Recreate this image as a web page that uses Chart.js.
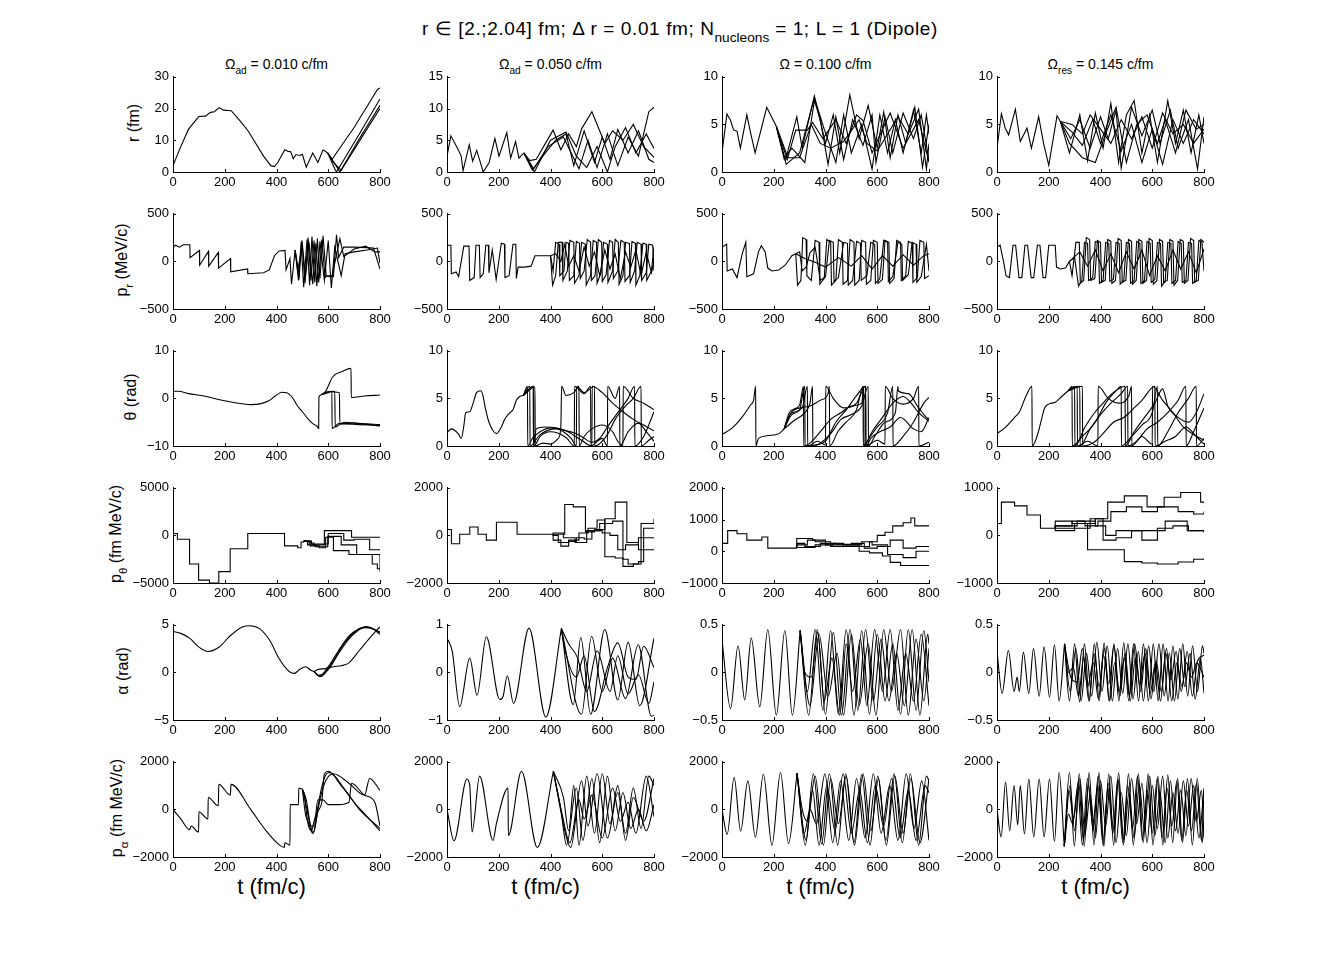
<!DOCTYPE html>
<html>
<head>
<meta charset="utf-8">
<script src="https://cdn.jsdelivr.net/npm/chart.js@4.4.1/dist/chart.umd.min.js"></script>
<style>
  html, body { margin: 0; padding: 0; background: #fff; }
  #page { position: relative; width: 1334px; height: 963px; font-family: 'Liberation Sans', Arial, sans-serif; color: #000; overflow: hidden; }
  .panel { position: absolute; }
  .lbl { position: absolute; white-space: nowrap; line-height: 1; }
  .ylab { transform: translate(-50%, -50%) rotate(-90deg); font-size: 16px; }
  .ctitle { transform: translateX(-50%); font-size: 14px; }
  .xlab { transform: translate(-50%, -50%); font-size: 22px; }
  #title { left: 680px; top: 19px; transform: translateX(-50%); font-size: 19px; letter-spacing: 0.6px; }
  sub { font-size: 0.72em; vertical-align: -0.5em; line-height: 0; letter-spacing: 0; }
</style>
</head>
<body>
<div id="page">
  <div class="lbl" id="title">r &isin; [2.;2.04] fm; &Delta; r = 0.01 fm; N<sub>nucleons</sub> = 1; L = 1 (Dipole)</div>
</div>
<script>
// ---- labels / ticks ----
const tTicks = [0, 200, 400, 600, 800];
const omegaTitles = [
  '&Omega;<sub>ad</sub> = 0.010 c/fm',
  '&Omega;<sub>ad</sub> = 0.050 c/fm',
  '&Omega; = 0.100 c/fm',
  '&Omega;<sub>res</sub> = 0.145 c/fm'
];
const rowLabels = [
  'r (fm)',
  'p<sub>r</sub> (MeV/c)',
  '&theta; (rad)',
  'p<sub>&theta;</sub> (fm MeV/c)',
  '&alpha; (rad)',
  'p<sub>&alpha;</sub> (fm MeV/c)'
];
const timeLabel = 't (fm/c)';

const yTicks = [
  [[0, 10, 20, 30], [0, 5, 10, 15], [0, 5, 10], [0, 5, 10]],
  [[-500, 0, 500], [-500, 0, 500], [-500, 0, 500], [-500, 0, 500]],
  [[-10, 0, 10], [0, 5, 10], [0, 5, 10], [0, 5, 10]],
  [[-5000, 0, 5000], [-2000, 0, 2000], [-1000, 0, 1000, 2000], [-1000, 0, 1000]],
  [[-5, 0, 5], [-1, 0, 1], [-0.5, 0, 0.5], [-0.5, 0, 0.5]],
  [[-2000, 0, 2000], [-2000, 0, 2000], [-2000, 0, 2000], [-2000, 0, 2000]]
];

// ---- r (fm) ----
const rA = [[0,2],[30,8],[60,13.5],[90,16.5],[100,17.5],[125,17.6],[145,18.8],[160,19],[178,20.3],[195,19.5],[225,19.3],[260,16],[290,13],[320,9],[350,5],[378,2],[392,1.7],[405,3],[432,7],[445,6.5],[455,6.4],[465,4.2],[475,5.5],[490,5.2],[500,5.6],[515,1.5],[540,6],[560,3],[580,7],[598,6]];
const rA_split = [
  [[615,4],[640,7],[700,14],[760,22],[790,26],[800,26.5]],
  [[625,1],[632,0],[720,12],[800,23]],
  [[630,2],[645,0],[720,10.5],[800,21]],
  [[620,3],[650,0.5],[730,11],[800,20]]
];
const rB = [[0,2.5],[15,5.7],[41,3.7],[55,2.5],[62,0.2],[86,4.3],[99,1.7],[115,3.4],[140,0],[163,1.5],[185,5.3],[201,2.5],[231,6.2],[246,2.2],[265,4.8],[278,2.2],[297,3]];
const rB_split = [
  [[320,1.8],[345,2],[410,6.6],[440,3.5],[470,6],[500,4],[520,6.8],[560,9.5],[610,4.5],[640,6.5],[680,5],[720,7.5],[760,4],[800,2.3]],
  [[330,0.3],[380,3],[420,5],[460,6],[490,1],[530,6.5],[570,1.5],[600,5.5],[630,2],[660,6.7],[700,3],[740,6.5],[780,2],[800,1.5]],
  [[335,0.5],[390,4],[450,5.5],[480,3],[510,0.5],[545,5],[580,0.7],[620,6],[660,1],[700,5.5],[740,2.5],[780,9.5],[800,10.2]],
  [[338,0],[400,5],[460,6.3],[500,2.5],[540,0.7],[580,4],[620,0],[650,4],[690,7],[730,3],[770,6],[800,3.7]]
];
const rC = [[0,2],[19,6.1],[32,5.5],[45,4.4],[58,4.3],[71,2.5],[96,6],[109,4.3],[128,2],[173,6.8],[195,5.6],[210,4.8]];
const rC_split = [
  [[245,1.2],[289,5.8],[310,2.5],[357,8],[400,3],[430,6],[455,2],[494,8.1],[530,3.5],[565,7],[600,2.5],[625,6.3],[650,1.5],[680,6],[710,3],[745,6.8],[775,0.5],[800,5]],
  [[248,0.8],[300,2],[357,7.8],[395,4.5],[440,1],[470,6],[500,2],[540,5],[580,0.3],[610,6],[640,2],[670,5.5],[700,2],[740,6.5],[770,2],[790,6],[800,4]],
  [[252,1.3],[285,4.4],[330,4.4],[350,5.2],[390,3.5],[440,5.5],[480,3],[520,6],[545,5.4],[580,2],[620,4.5],[650,6.2],[700,2.5],[760,5.5],[800,1]],
  [[255,1.5],[300,1.5],[345,5],[380,3],[420,2.5],[470,3.2],[530,5.5],[560,3],[600,2.2],[640,4],[680,5.8],[720,4],[760,6.6],[790,0.3],[800,3]],
  [[240,1.4],[270,2.5],[320,1],[357,7.5],[380,5.5],[410,0.8],[440,5.8],[470,1.3],[505,5.5],[545,2.8],[580,6],[595,1],[630,5.8],[660,2],[700,6.2],[740,3.5],[770,6],[800,1.2]]
];
const rD = [[0,2.5],[17,6.1],[32,4.6],[45,3.9],[71,6.6],[90,3.2],[116,4.6],[133,2.5],[161,5.8],[180,3],[200,0.7],[232,5.9],[245,5.3]];
const rD_split = [
  [[280,2],[320,6],[350,1.2],[380,6.2],[410,2.5],[440,7.2],[470,1],[500,6],[530,7.5],[560,2],[590,6],[620,1],[660,7.5],[690,3],[720,6.5],[750,2],[780,6],[800,3]],
  [[285,3.5],[320,5.5],[360,2.5],[400,5.8],[430,3.5],[460,6.5],[480,0.4],[520,6.8],[560,3.8],[600,6.5],[630,3],[670,6.5],[700,2.5],[740,5.5],[775,0.3],[800,5.8]],
  [[290,4.2],[330,2.8],[370,5.5],[400,3],[440,6],[480,2.2],[520,5],[560,1],[600,4.5],[640,0.8],[680,5.5],[720,3],[760,5.5],[800,4]],
  [[280,3],[330,1.5],[380,1],[420,4],[460,6.8],[500,1],[540,5],[580,6],[620,3],[650,5.5],[690,2],[730,6.5],[770,4.5],[800,5]],
  [[290,5],[330,4],[360,6],[400,4.5],[440,3],[480,5.5],[520,3.5],[560,5.8],[600,2.5],[640,6.2],[680,4],[720,5],[760,3],[800,4.5]]
];

// ---- p_r (MeV/c) ----
const prA = [[0,150],[10,170],[25,150],[40,175],[65,175],[66,40],[102,115],[103,-40],[137,105],[138,-50],[175,95],[176,-70],[222,30],[223,-110],[288,-80],[289,-130],[350,-120],[372,-90],[392,60],[410,110],[433,115],[437,-90],[452,30],[458,-240],[472,120]];
const prA_split = [
  [[485,-200],[495,200],[505,-270],[518,230],[528,-250],[537,260],[548,-220],[558,240],[568,-180],[580,270],[592,-150],[605,-160],[620,-160],[632,280],[640,40],[660,150],[700,150],[745,145],[775,140],[800,-80]],
  [[488,-150],[498,220],[510,-230],[522,250],[533,-200],[545,220],[556,-260],[568,210],[585,-200],[600,220],[612,-280],[625,150],[650,-150],[665,80],[700,100],[750,120],[790,140],[800,-20]],
  [[482,-100],[500,180],[512,-160],[526,200],[540,-240],[552,190],[563,-220],[575,230],[588,-170],[598,-150],[615,-150],[645,240],[660,50],[700,130],[745,160],[780,100],[800,100]]
];
const prB = [[0,170],[15,170],[17,-130],[35,-110],[45,-160],[65,160],[85,160],[88,-200],[105,-170],[112,170],[125,170],[128,-170],[140,-130],[150,170],[160,170],[162,-120],[175,120],[190,-190],[210,190],[222,180],[224,-170],[240,-150],[255,180],[266,180],[268,-180],[275,-60],[300,-60],[325,-50],[340,60],[390,60],[400,60]];
const prB_split = [
  [[408,-250],[420,-150],[430,200],[445,200],[448,-200],[465,-100],[475,220],[490,200],[493,-230],[510,-150],[520,200],[535,180],[538,-250],[555,-150],[565,220],[578,200],[580,-230],[595,-120],[605,200],[620,180],[622,-220],[640,-100],[650,230],[662,200],[665,-240],[680,-150],[690,200],[705,190],[708,-220],[725,-100],[735,200],[750,180],[752,-200],[770,-120],[780,180],[795,170],[800,-100]],
  [[410,-100],[420,200],[433,180],[436,-150],[452,-100],[460,200],[470,190],[473,-200],[490,-150],[500,210],[512,190],[515,-180],[530,-100],[542,230],[555,200],[558,-200],[572,-150],[585,230],[598,200],[600,-210],[615,-140],[628,220],[640,200],[643,-180],[660,-100],[672,220],[685,200],[688,-210],[705,-150],[715,210],[728,190],[730,-250],[745,-150],[757,190],[770,180],[772,-200],[790,-100],[800,150]],
  [[420,80],[440,0],[455,180],[470,-50],[490,60],[510,-100],[530,150],[550,-50],[570,100],[590,-150],[610,120],[630,-80],[650,80],[670,-180],[690,100],[710,-60],[730,120],[750,-150],[770,100],[790,-120],[800,0]]
];
const prC = [[0,150],[18,180],[20,-100],[40,-80],[58,-170],[78,80],[92,200],[96,-160],[122,-130],[141,100],[152,165],[167,100],[177,-70],[193,-100],[219,-90],[244,-40],[270,60],[285,80]];
const prC_split = [
  [[292,-250],[305,-200],[312,250],[325,230],[328,-150],[345,-200],[360,220],[375,200],[378,-240],[395,-180],[405,230],[420,200],[423,-250],[440,-200],[450,230],[465,200],[468,-240],[485,-200],[495,230],[510,200],[513,-250],[530,-200],[540,220],[555,200],[558,-240],[575,-200],[585,220],[600,200],[603,-230],[620,-190],[630,220],[645,200],[648,-230],[665,-180],[675,220],[690,200],[693,-200],[710,-150],[720,210],[735,190],[738,-220],[755,-170],[765,220],[780,200],[783,-180],[800,-150]],
  [[300,100],[310,-100],[325,-60],[340,90],[360,150],[380,-200],[400,-160],[415,220],[430,200],[433,-210],[450,-170],[470,200],[485,190],[488,-250],[505,-200],[520,210],[535,190],[538,-200],[560,-150],[575,200],[590,180],[593,-230],[610,-180],[625,220],[640,200],[643,-210],[660,-160],[680,200],[695,180],[698,-200],[720,-140],[735,200],[750,180],[753,-220],[770,-160],[790,180],[800,-100]],
  [[320,30],[360,-10],[400,-60],[450,40],[500,-50],[540,60],[580,-80],[620,60],[660,-50],[700,70],[740,-40],[780,60],[800,80]]
];
const prD = [[0,150],[12,170],[25,0],[35,-150],[48,-170],[62,170],[72,170],[85,-170],[96,-170],[108,170],[118,170],[132,-170],[142,-170],[156,170],[166,170],[178,-170],[188,-170],[200,170],[225,170],[230,-60],[245,-80],[265,-70],[280,0]];
const prD_split = [
  [[290,-150],[305,200],[318,200],[322,-230],[335,-200],[345,250],[358,230],[362,-200],[378,-180],[388,220],[400,200],[404,-220],[418,-200],[428,230],[440,210],[444,-230],[458,-200],[468,240],[480,220],[484,-220],[498,-200],[508,230],[520,210],[524,-240],[538,-200],[548,230],[560,210],[564,-230],[578,-200],[588,240],[600,220],[604,-240],[618,-200],[628,230],[640,210],[644,-220],[658,-200],[668,230],[680,210],[684,-250],[698,-200],[708,230],[720,210],[724,-230],[738,-200],[748,240],[760,220],[764,-220],[778,-200],[788,230],[800,200]],
  [[300,40],[315,-260],[328,-200],[338,200],[350,190],[354,-200],[370,-170],[380,210],[392,200],[396,-230],[410,-200],[420,200],[432,190],[436,-210],[450,-190],[460,200],[472,190],[476,-240],[490,-200],[500,200],[512,190],[516,-230],[530,-200],[540,210],[552,190],[556,-230],[570,-200],[580,210],[592,190],[596,-220],[610,-190],[620,200],[632,190],[636,-260],[650,-210],[660,200],[672,190],[676,-230],[690,-200],[700,210],[712,190],[716,-220],[730,-200],[740,200],[752,190],[756,-230],[770,-200],[780,220],[792,200],[800,-100]],
  [[320,100],[350,-50],[380,120],[410,-100],[440,80],[470,-120],[500,100],[530,-80],[560,120],[590,-150],[620,60],[650,-100],[680,120],[710,-80],[740,100],[770,-120],[800,130]]
];

// ---- theta (rad) ----
const thA = [[0,1.5],[20,1.5],[60,1],[120,0.5],[180,-0.3],[240,-0.9],[300,-1.3],[340,-1.1],[370,-0.5],[395,0.5],[420,1.3],[440,1.2],[460,0.3],[480,-1.5],[500,-2.8],[520,-4.2],[540,-5.3],[556,-5.8],[563,-6.3],[564,0.3],[575,0.8]];
const thA_split = [
  [[590,1.5],[617,4.5],[656,5.7],[688,6.3],[689,0.2],[740,0.5],[800,0.7]],
  [[600,1.2],[614,1.5],[615,-6.3],[640,-5.3],[720,-5.5],[800,-5.7]],
  [[590,1.3],[625,1.5],[627,-6],[660,-5],[730,-5.3],[800,-5.5]],
  [[600,1.4],[643,1.2],[645,-5.3],[700,-5.2],[800,-5.8]]
];
const thB = [[0,1.4],[17,1.8],[43,1.3],[55,0.8],[66,2.3],[72,3.5],[88,3.6],[101,4.5],[114,5.6],[130,5.8],[139,5.3],[148,4],[161,2.6],[178,1.6],[191,1.3],[210,2],[223,2.8],[243,3.5],[255,3.8],[268,4.8],[281,5.2],[295,5.3]];
const thB_split = [
  [[311,6.28],[312,0],[330,0.8],[360,1.5],[400,1.9],[450,1.7],[480,1.3],[520,0.6],[560,0],[561,6.28],[600,5.6],[640,4.5],[680,3.6],[720,2.8],[760,2.2],[800,1.6]],
  [[333,6.28],[334,0],[345,1.8],[380,2],[420,1.9],[460,1.6],[490,1.4],[520,1],[560,0.4],[590,0.8],[620,2],[660,3.5],[700,5],[725,6.28],[726,0],[760,1],[800,3.6]],
  [[340,6.2],[341,0],[370,0.3],[400,0.2],[430,0.8],[440,2],[443,6.28],[460,5.3],[490,5.6],[510,6.28],[511,0],[530,1],[560,1.8],[600,2.2],[640,1.5],[660,0.5],[680,0],[681,6.28],[720,5],[760,4.5],[800,3.8]],
  [[335,6.28],[336,0],[360,1],[400,1.5],[460,0.9],[492,0],[493,6.28],[530,5.5],[555,6.28],[556,0],[600,0.8],[620,0],[621,6.28],[650,5],[667,6.28],[668,0],[700,1.5],[740,2.4],[770,1.5],[800,0.5]],
  [[320,6.28],[321,0],[360,1.2],[420,1.8],[480,0.8],[500,0],[501,6.28],[530,5.6],[570,6.28],[571,0],[620,1.2],[650,2.8],[690,4.2],[720,5],[750,6.28],[751,0],[780,0.6],[800,1]]
];
const thC = [[0,1.2],[40,1.9],[77,3],[110,4.3],[122,4.8],[130,6.28],[131,0],[141,0.8],[180,1.1],[220,1.3],[240,1.8]];
const thC_split = [
  [[260,3.5],[280,3.9],[300,4.3],[315,6.28],[316,0],[340,0.3],[380,1.5],[420,2.8],[460,3.5],[500,4.2],[540,4.5],[548,6.28],[549,0],[580,1.5],[620,3],[660,4.5],[700,5.2],[740,4.2],[760,3.5],[800,2.6]],
  [[270,3.6],[300,4],[340,4.2],[380,4.8],[410,5.5],[415,6.28],[416,0],[450,1.6],[480,2.5],[520,3.8],[545,6.28],[546,0],[560,0.5],[600,2],[640,3.5],[660,6.28],[661,0],[700,1],[740,2.5],[780,4.5],[800,5.1]],
  [[270,3.3],[300,3.8],[320,6.28],[321,0],[360,0.1],[400,0.5],[440,2.5],[480,3.8],[520,5.3],[555,6.28],[556,0],[575,0.8],[610,1.5],[650,2],[690,3],[740,1.8],[770,1.5],[800,3]],
  [[280,2.7],[320,3.5],[340,4.5],[350,6.28],[351,0],[380,0.3],[420,1.3],[460,2.8],[500,3.3],[540,4.2],[565,6.28],[566,0],[590,1],[630,2.5],[670,3.5],[680,6.28],[681,5.8],[720,5.5],[760,4],[790,3],[800,2.8]],
  [[265,3.4],[310,4],[330,6.28],[331,0],[370,0.5],[400,0.1],[401,6.28],[430,5],[470,4],[520,4.5],[555,6.28],[556,0],[600,0.6],[630,0.2],[631,6.28],[660,5],[700,4.4],[740,5],[760,6.28],[761,0],[800,0.4]]
];
const thD = [[0,1.3],[30,1.9],[68,3],[87,3.6],[113,5.3],[135,6.28],[136,0],[148,0.5],[160,1.5],[172,2.8],[184,4],[200,4.4],[225,4.6],[250,5.2],[275,5.8]];
const thD_split = [
  [[290,6.28],[291,0],[330,1],[380,2.5],[420,4.5],[460,5.8],[480,6.28],[481,0],[520,1],[560,2.2],[600,3.5],[620,6.28],[621,0],[660,1.5],[700,3.5],[740,5],[770,6.28],[771,0],[800,0.8]],
  [[300,6.28],[301,0],[340,2],[380,3.6],[410,4.5],[440,5.4],[470,6],[495,6.28],[496,0],[530,1.5],[570,3],[610,4.5],[640,6],[660,4.2],[700,3],[740,2.5],[770,3.5],[800,5.5]],
  [[310,6.28],[311,0],[350,0.5],[390,0],[391,6.28],[430,5],[470,4.5],[510,5.3],[520,6.28],[521,0],[560,1],[600,0.2],[601,6.28],[640,4.8],[680,3.5],[720,2],[760,1.2],[800,0.6]],
  [[320,6.28],[321,0],[360,1.8],[400,3.3],[440,4.5],[480,5.5],[505,6.28],[506,0],[540,0.5],[580,1.8],[620,2.5],[660,3.5],[700,4.8],[730,6.28],[731,0],[760,1.5],[800,4]],
  [[330,6.28],[331,0],[370,0.3],[400,1],[450,2.5],[490,3],[530,4],[560,4.8],[610,6.28],[611,0],[650,0.5],[690,1],[730,2],[770,1],[800,0.2]]
];

// ---- p_theta (fm MeV/c), step values ----
const pthA = [[0,200],[17,-400],[64,-3000],[99,-4700],[141,-5000],[177,-3800],[221,-1400],[289,200],[431,-1100],[482,-1300],[495,-700],[505,-600]];
const pthA_split = [
  [[525,-800],[545,-1000],[585,500],[690,-200],[800,-200]],
  [[530,-1100],[565,-1300],[590,-200],[620,-1600],[680,-2000],[780,-2000],[800,-3800]],
  [[520,-1000],[550,-1200],[598,-100],[650,-1000],[710,-2000],[770,-3000],[790,-3500],[800,-3500]],
  [[535,-900],[575,-900],[600,200],[660,-500],[700,-400],[760,-1500],[800,-1500]]
];
const pthB = [[0,250],[17,-350],[49,50],[88,350],[120,50],[152,-200],[191,550],[271,50],[410,50]];
const pthB_split = [
  [[455,1300],[488,1200],[535,150],[570,250],[610,700],[650,1400],[695,-300],[740,-600],[800,-600]],
  [[410,-200],[440,-450],[470,-250],[500,-100],[530,-150],[560,200],[590,500],[640,600],[680,-1000],[700,-1200],[740,-1100],[760,300],[800,300]],
  [[410,0],[430,-300],[470,-200],[510,100],[545,300],[580,650],[610,-900],[650,-950],[680,-1300],[720,-1200],[750,500],[800,700]],
  [[410,100],[450,-100],[495,-300],[540,200],[600,100],[630,0],[660,-600],[690,-400],[740,-100],[800,-100]]
];
const pthC = [[0,250],[22,650],[58,550],[96,350],[154,450],[177,100],[289,100]];
const pthC_split = [
  [[289,400],[350,350],[400,200],[430,250],[470,200],[530,150],[570,300],[600,500],[630,600],[660,800],[700,900],[730,1050],[745,800],[800,800]],
  [[289,200],[330,350],[360,300],[420,200],[470,150],[530,0],[570,-50],[620,-150],[650,-350],[690,-450],[800,-450]],
  [[289,250],[320,150],[380,250],[440,220],[500,250],[550,100],[600,150],[650,350],[700,100],[750,150],[800,150]],
  [[289,120],[360,200],[420,150],[480,200],[540,300],[580,200],[640,-100],[700,-200],[750,0],[800,0]]
];
const pthD = [[0,250],[17,700],[68,620],[116,430],[168,150],[225,150]];
const pthD_split = [
  [[225,300],[290,250],[330,250],[380,350],[428,700],[492,830],[580,600],[646,800],[710,900],[787,700],[800,700]],
  [[225,200],[290,300],[340,200],[390,300],[440,500],[500,600],[560,500],[620,600],[700,500],[760,450],[800,500]],
  [[225,150],[300,250],[350,-300],[420,-300],[492,-550],[560,-580],[620,-600],[700,-560],[760,-500],[800,-480]],
  [[225,100],[300,150],[360,350],[410,-100],[460,-50],[520,100],[600,100],[650,300],[700,300],[735,100],[800,80]],
  [[225,200],[310,300],[380,200],[420,0],[460,100],[560,-100],[620,150],[680,200],[740,100],[800,60]]
];

// ---- alpha (rad) ----
const alA = [[0,4.3],[30,4.1],[64,3.6],[103,2.6],[135,2.2],[180,2.7],[219,3.8],[270,4.8],[296,4.9],[334,4.6],[373,3.4],[411,1.4],[450,0.07],[469,-0.1],[489,0.3],[512,0.6],[534,0.2],[545,0.1]];
const alA_split = [
  [[566,-0.4],[600,0.6],[640,2.3],[680,3.8],[720,4.6],[745,4.8],[770,4.6],[800,4]],
  [[560,-0.3],[600,0.3],[640,2],[690,3.8],[740,4.7],[770,4.6],[800,4.2]],
  [[560,0.3],[590,0.4],[620,0.6],[650,0.7],[680,1],[720,2.3],[760,3.6],[800,4.8]],
  [[570,-0.45],[610,0.8],[660,3],[710,4.4],[750,4.8],[800,4.2]]
];
const alB = [[0,0.72],[20,0.45],[49,-0.72],[88,0.3],[116,-0.48],[152,0.75],[204,-0.57],[217,-0.5],[233,-0.07],[257,-0.65],[317,0.93],[382,-0.94],[442,0.92]];
const alB_split = [
  [[488,-0.68],[517,0.73],[555,-0.88],[610,0.9],[660,-0.58],[700,0.63],[745,-0.7],[800,0.72]],
  [[520,-0.88],[559,0.76],[600,-0.4],[640,0.3],[690,-0.55],[739,0.58],[790,-0.92],[800,-0.9]],
  [[455,0.5],[500,-0.1],[530,0.35],[570,-0.82],[620,0.1],[660,0.62],[700,-0.1],[730,-0.15],[760,0.55],[800,0.1]],
  [[470,0.6],[505,0.3],[540,-0.4],[580,0.45],[630,-0.4],[660,0.35],[700,-0.45],[740,-0.05],[780,-0.65],[800,-0.2]]
];
const alC = [[0,0.34],[33,-0.38],[62,0.28],[88,-0.29],[113,0.36],[146,-0.36],[177,0.45],[210,-0.45],[243,0.44],[272,-0.45],[302,0.44]];
const alC_split = [
  [[330,-0.2],[360,0.45],[390,-0.4],[420,0.44],[450,-0.44],[480,0.45],[510,-0.45],[540,0.44],[570,-0.44],[600,0.4],[630,-0.3],[660,0.3],[690,-0.44],[720,0.45],[750,-0.4],[780,0.44],[800,-0.1]],
  [[335,-0.45],[368,0.45],[400,-0.44],[430,0.42],[462,-0.45],[495,0.45],[525,-0.4],[555,0.45],[585,-0.3],[615,0.35],[645,-0.3],[675,0.2],[705,-0.35],[735,0.45],[765,-0.45],[795,0.4],[800,0.3]],
  [[320,0],[345,-0.05],[370,0.42],[395,-0.3],[425,0.15],[455,-0.45],[480,0.3],[505,-0.2],[535,0.35],[560,-0.35],[590,0.45],[620,-0.2],[650,0.45],[680,-0.4],[710,0.2],[740,-0.3],[770,0.4],[800,-0.35]],
  [[340,-0.35],[375,0.4],[410,-0.25],[445,0.2],[470,-0.45],[500,0.4],[530,-0.35],[565,0.3],[595,-0.45],[625,0.45],[655,-0.2],[690,0.45],[720,-0.45],[750,0.35],[780,-0.3],[800,0.25]]
];
const alD = [[0,0.22],[20,-0.22],[44,0.23],[66,-0.2],[78,-0.05],[86,-0.2],[102,0.21],[123,-0.22],[141,0.25],[163,-0.25],[182,0.27],[203,-0.26],[222,0.29],[240,-0.3],[261,0.3]];
const alD_split = [
  [[280,-0.3],[300,0.3],[319,-0.31],[338,0.3],[357,-0.3],[376,0.3],[395,-0.3],[414,0.31],[433,-0.3],[452,0.3],[471,-0.3],[490,0.31],[509,-0.3],[528,0.3],[547,-0.3],[566,0.3],[585,-0.3],[604,0.3],[623,-0.3],[642,0.3],[661,-0.3],[680,0.28],[699,-0.28],[718,0.3],[737,-0.25],[756,0.28],[775,-0.2],[794,0.28],[800,0.2]],
  [[283,-0.2],[305,0.25],[325,-0.3],[346,0.2],[366,-0.25],[386,0.32],[406,-0.2],[426,0.28],[446,-0.3],[466,0.25],[486,-0.22],[506,0.3],[526,-0.28],[546,0.22],[566,-0.3],[586,0.28],[606,-0.2],[626,0.3],[646,-0.25],[666,0.2],[686,-0.3],[706,0.25],[726,-0.15],[746,0.2],[766,-0.28],[786,0.15],[800,-0.22]],
  [[275,0],[295,0.05],[315,-0.25],[335,0.15],[355,-0.3],[375,0.2],[395,-0.15],[415,0.25],[435,-0.3],[455,0.1],[475,-0.25],[495,0.2],[515,-0.3],[535,0.15],[555,-0.2],[575,0.25],[595,-0.28],[615,0.12],[635,-0.2],[655,0.25],[675,-0.3],[695,0.1],[715,-0.15],[735,0.22],[755,-0.25],[775,0.12],[800,0.18]],
  [[285,-0.05],[310,-0.1],[330,0.25],[350,-0.15],[372,0.1],[392,-0.28],[412,0.18],[432,-0.12],[452,0.28],[472,-0.2],[492,0.15],[512,-0.25],[532,0.3],[552,-0.12],[572,0.2],[592,-0.22],[612,0.1],[632,-0.3],[652,0.2],[672,-0.08],[692,0.22],[712,-0.2],[732,0.1],[752,-0.05],[772,0.1],[800,-0.05]]
];

// ---- p_alpha (fm MeV/c) ----
const palA = [[0,0],[30,-400],[64,-850],[70,-700],[99,-950],[100,-100],[135,-400],[136,500],[175,150],[177,1050],[222,600],[224,1050],[300,0],[360,-900],[412,-1500],[431,-1600],[432,-1400],[452,-1500],[453,200],[485,200],[486,900],[500,850]];
const palA_split = [
  [[512,-200],[525,-600],[540,-1000],[548,-800],[560,-100],[575,300],[585,1500],[600,1600],[650,1000],[700,300],[750,-300],[800,-900]],
  [[508,600],[520,-500],[535,-900],[545,-500],[558,0],[572,800],[588,1400],[605,1550],[660,900],[720,0],[800,-800]],
  [[515,400],[530,-600],[542,-1000],[555,-300],[570,500],[590,1200],[620,1500],[680,1100],[740,600],[760,1300],[800,800]],
  [[518,0],[532,-700],[545,-700],[560,400],[580,400],[600,200],[640,200],[680,300],[690,1100],[740,600],[780,300],[800,-700]]
];
const palB = [[0,0],[27,-1320],[77,1280],[88,1000],[97,-950],[126,1400],[178,-1300],[191,-600],[236,900],[237,-1100],[288,1600],[349,-1600],[411,1600]];
const palB_split = [
  [[460,-1100],[478,-1600],[520,1200],[545,-700],[580,1500],[620,-1200],[660,700],[690,-1000],[720,900],[750,-800],[780,1400],[800,1000]],
  [[450,500],[470,-900],[490,1000],[510,-1500],[540,1400],[570,-1000],[600,1500],[630,-600],[660,1000],[690,-1300],[720,500],[760,-500],[800,1300]],
  [[440,0],[462,-1500],[500,900],[525,-1300],[560,1300],[590,-1400],[620,1400],[650,-900],[680,700],[710,-800],[740,0],[770,-900],[800,200]],
  [[445,-200],[475,-1400],[510,400],[530,-400],[560,600],[600,-1200],[640,900],[670,-500],[700,300],[730,-1000],[770,1400],[800,-300]]
];
const palC = [[0,0],[20,-1050],[47,1350],[72,-920],[100,1200],[129,-1160],[160,1480],[193,-1500],[226,1550],[257,-1430],[290,1520]];
const palC_split = [
  [[322,-1500],[353,1500],[385,-1450],[415,1500],[447,-1500],[478,1500],[510,-1400],[540,1450],[572,-1500],[602,1400],[634,-1300],[665,1500],[697,-1400],[728,1500],[760,-1500],[790,1400],[800,1200]],
  [[310,0],[330,-500],[360,1400],[392,-1500],[420,1300],[450,-600],[480,1400],[512,-1500],[545,1500],[575,-900],[605,1300],[635,-1500],[668,1400],[700,-1000],[730,1300],[765,-1400],[800,1300]],
  [[318,-1000],[340,0],[365,-600],[398,1500],[428,-1400],[458,1200],[490,-1300],[520,1300],[553,-1200],[585,1500],[615,-1000],[648,1000],[680,-1300],[712,1500],[742,-800],[772,1200],[800,-1300]],
  [[325,-1300],[350,800],[375,-1500],[405,1000],[437,-900],[468,1500],[500,-1000],[532,800],[562,-1400],[592,1000],[625,-700],[655,1300],[688,-1200],[720,800],[750,-1300],[785,1000],[800,700]]
];
const palD = [[0,0],[16,-1160],[33,1150],[49,-900],[66,1000],[80,-650],[90,1000],[106,-1030],[123,1280],[142,-1160],[163,1280],[182,-1150],[203,1280],[222,-1350],[240,1550],[260,-1550]];
const palD_split = [
  [[280,1550],[299,-1550],[318,1500],[337,-1550],[356,1550],[375,-1500],[394,1550],[413,-1550],[432,1500],[451,-1500],[470,1550],[489,-1500],[508,1500],[527,-1500],[546,1500],[565,-1400],[584,1500],[603,-1500],[622,1400],[641,-1500],[660,1450],[679,-1400],[698,1300],[717,-1400],[736,1300],[755,-1500],[774,1300],[793,-1400],[800,-500]],
  [[278,800],[296,-400],[315,1200],[334,-1300],[353,1000],[372,-900],[391,1400],[410,-1300],[429,900],[448,-1000],[467,1300],[486,-1400],[505,1000],[524,-800],[543,1400],[562,-1300],[581,800],[600,-1000],[619,1300],[638,-1200],[657,900],[676,-700],[695,1200],[714,-1300],[733,800],[752,-900],[771,1100],[790,-1300],[800,700]],
  [[282,1000],[300,-900],[320,1300],[340,-1000],[360,600],[380,-1200],[400,1200],[420,-700],[440,1400],[460,-1400],[480,700],[500,-1100],[520,1300],[540,-600],[560,1100],[580,-1400],[600,1000],[620,-800],[640,1400],[660,-1200],[680,700],[700,-1000],[720,1200],[740,-700],[760,1000],[780,-1200],[800,900]],
  [[276,-200],[292,-600],[312,900],[330,-1500],[350,1300],[370,-600],[390,1000],[410,-1500],[430,1100],[450,-800],[470,1200],[490,-1300],[510,700],[530,-1200],[550,1000],[570,-900],[590,1400],[610,-1100],[630,700],[650,-1400],[670,1200],[690,-900],[710,800],[730,-1100],[750,1300],[770,-500],[790,800],[800,-1200]]
];

const panelData = [
  [[rA, rA_split], [rB, rB_split], [rC, rC_split], [rD, rD_split]],
  [[prA, prA_split], [prB, prB_split], [prC, prC_split], [prD, prD_split]],
  [[thA, thA_split], [thB, thB_split], [thC, thC_split], [thD, thD_split]],
  [[pthA, pthA_split], [pthB, pthB_split], [pthC, pthC_split], [pthD, pthD_split]],
  [[alA, alA_split], [alB, alB_split], [alC, alC_split], [alD, alD_split]],
  [[palA, palA_split], [palB, palB_split], [palC, palC_split], [palD, palD_split]]
];

// ---- layout ----
const colLeft = [173, 447, 722, 997];
const rowTop = [73, 210, 347, 484, 621, 758];
const plotW = 207, plotH = 99;
const padL = 60, padT = 8, padR = 14, padB = 22;
const rowMode = ['line', 'line', 'curve', 'step', 'curve', 'curve'];
const yLabelX = [134, 122, 131, 116, 123, 117];
const tickFont = { family: "'Liberation Sans', Arial, sans-serif", size: 13 };

// matlab-like ticks pointing into the plot
const inwardTicks = {
  id: 'inwardTicks',
  afterDraw(chart) {
    const { ctx, chartArea: a, scales: { x, y } } = chart;
    ctx.save();
    ctx.strokeStyle = '#000';
    ctx.lineWidth = 1;
    ctx.beginPath();
    x.ticks.forEach(t => {
      const px = Math.round(x.getPixelForValue(t.value)) + 0.5;
      ctx.moveTo(px, a.bottom);
      ctx.lineTo(px, a.bottom - 3);
    });
    y.ticks.forEach(t => {
      const py = Math.round(y.getPixelForValue(t.value)) + 0.5;
      ctx.moveTo(a.left, py);
      ctx.lineTo(a.left + 3, py);
    });
    ctx.stroke();
    ctx.restore();
  }
};

const fmt = v => String(v).replace('-', '\u2212');

function makeDatasets(trunk, splits, mode) {
  const last = trunk[trunk.length - 1];
  const lines = [trunk].concat(splits.map(b => {
    // curves can't take two points at the same t
    if (mode === 'curve' && b[0][0] <= last[0]) return b;
    return [last].concat(b);
  }));
  return lines.map(l => ({
    data: l.map(p => ({ x: p[0], y: p[1] })),
    borderColor: '#000',
    borderWidth: 1.1,
    pointRadius: 0,
    fill: false,
    stepped: mode === 'step',
    tension: 0,
    cubicInterpolationMode: mode === 'curve' ? 'monotone' : 'default'
  }));
}

function axis(min, max, vals, fit) {
  return {
    type: 'linear',
    min: min,
    max: max,
    afterBuildTicks: s => { s.ticks = vals.map(v => ({ value: v })); },
    afterFit: fit,
    grid: { display: false, drawTicks: false },
    border: { display: true, color: '#000', width: 1 },
    ticks: { color: '#000', font: tickFont, maxRotation: 0, autoSkip: false, callback: fmt }
  };
}

const page = document.getElementById('page');

function addLabel(cls, html, left, top) {
  const d = document.createElement('div');
  d.className = 'lbl ' + cls;
  d.innerHTML = html;
  d.style.left = left + 'px';
  d.style.top = top + 'px';
  page.appendChild(d);
}

for (let c = 0; c < 4; c++) {
  const cx = colLeft[c] + plotW / 2;
  addLabel('ctitle', omegaTitles[c], cx, 57);
  addLabel('xlab', timeLabel, cx - 5, 887);
}
for (let r = 0; r < 6; r++) {
  addLabel('ylab', rowLabels[r], yLabelX[r], rowTop[r] + plotH / 2);
}

for (let r = 0; r < 6; r++) {
  for (let c = 0; c < 4; c++) {
    const [trunk, splits] = panelData[r][c];
    const yt = yTicks[r][c];
    const w = plotW + padL + padR, h = plotH + padT + padB;
    const box = document.createElement('div');
    box.className = 'panel';
    box.style.left = (colLeft[c] - padL) + 'px';
    box.style.top = (rowTop[r] - padT) + 'px';
    const cv = document.createElement('canvas');
    cv.width = w; cv.height = h;
    cv.style.width = w + 'px'; cv.style.height = h + 'px';
    box.appendChild(cv);
    page.appendChild(box);

    const xs = axis(0, 800, tTicks, s => { s.height = padB; });
    xs.ticks.padding = 3;
    const ys = axis(yt[0], yt[yt.length - 1], yt, s => { s.width = padL; });
    ys.ticks.padding = 4;

    new Chart(cv, {
      type: 'line',
      data: { datasets: makeDatasets(trunk, splits, rowMode[r]) },
      options: {
        responsive: false,
        animation: false,
        events: [],
        layout: { padding: { left: 0, top: padT, right: padR, bottom: 0 } },
        plugins: { legend: { display: false }, tooltip: { enabled: false } },
        scales: { x: xs, y: ys }
      },
      plugins: [inwardTicks]
    });
  }
}
</script>
</body>
</html>
